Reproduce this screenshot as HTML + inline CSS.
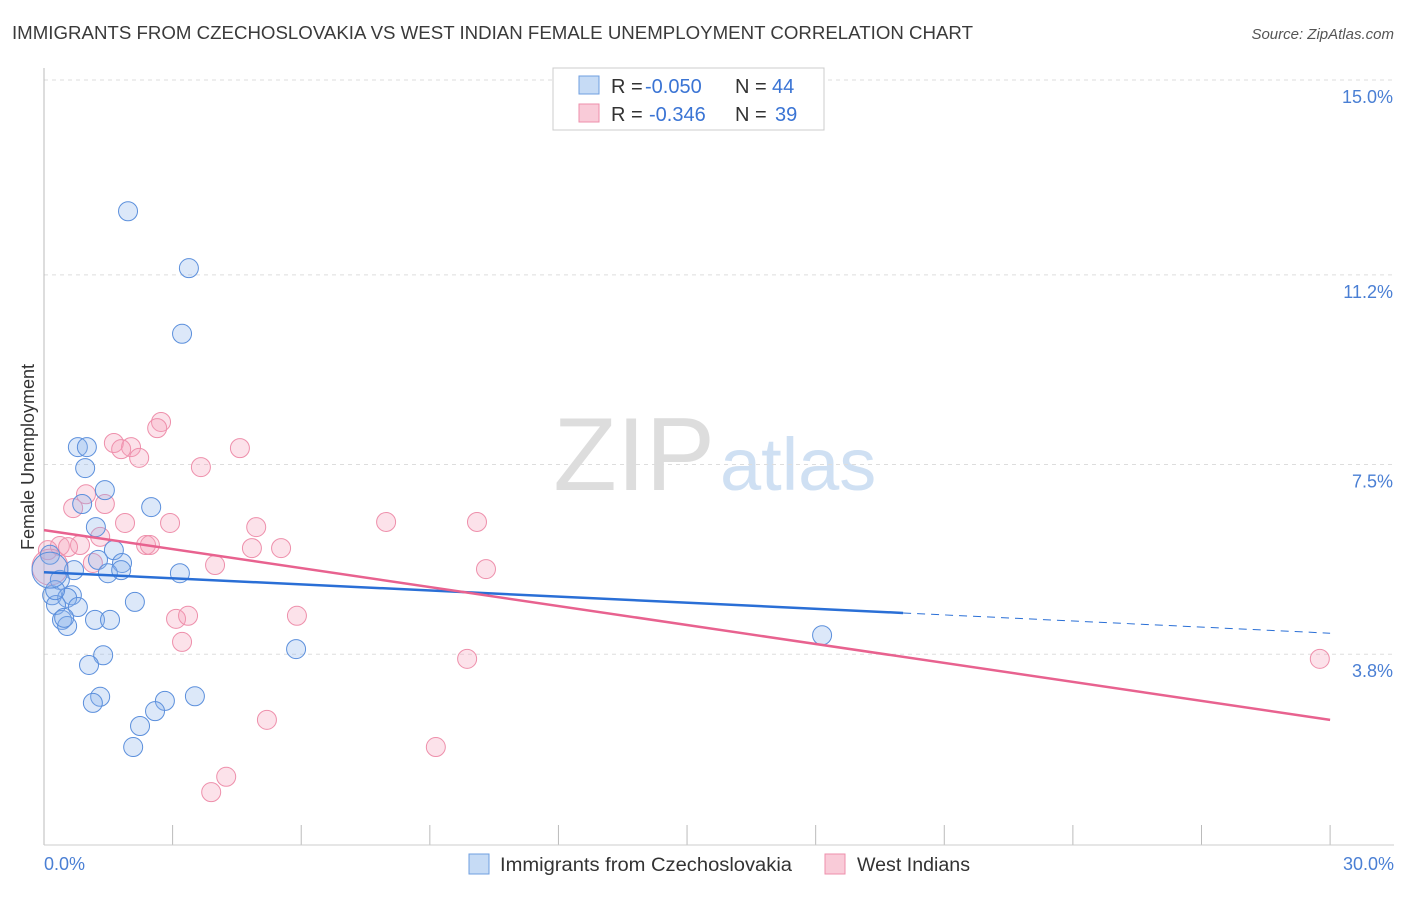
<!DOCTYPE html>
<html><head><meta charset="utf-8"><style>
body{margin:0;background:#fff;font-family:"Liberation Sans",sans-serif;}
svg text{font-family:"Liberation Sans",sans-serif;}
</style></head><body>
<svg id="chart" width="1406" height="892" xmlns="http://www.w3.org/2000/svg">
<text x="12" y="39" font-size="18" fill="#3a3a3a" textLength="961" lengthAdjust="spacingAndGlyphs">IMMIGRANTS FROM CZECHOSLOVAKIA VS WEST INDIAN FEMALE UNEMPLOYMENT CORRELATION CHART</text>
<text x="1394" y="39" font-size="15" fill="#555" text-anchor="end" font-style="italic">Source: ZipAtlas.com</text>
<text x="715" y="490" font-size="104" fill="#ddd" text-anchor="end" font-family="Liberation Serif">ZIP</text>
<text x="720" y="490" font-size="74" fill="#cfe0f3">atlas</text>
<g id="grid"></g>
<line x1="44" y1="68" x2="44" y2="845" stroke="#bbb"/>
<line x1="44" y1="845" x2="1394" y2="845" stroke="#ccc"/>
<text transform="translate(34,457) rotate(-90)" font-size="18" fill="#333" text-anchor="middle">Female Unemployment</text>
<text x="44" y="870" font-size="18" fill="#4a7fd4">0.0%</text>
<text x="1394" y="870" font-size="18" fill="#4a7fd4" text-anchor="end">30.0%</text>
<g id="pts"></g>
<g id="trends"></g>
<g>
<rect x="553" y="68" width="271" height="62" fill="#fff" stroke="#ccc"/>
<rect x="579" y="76" width="20" height="18" fill="#c6dbf5" stroke="#6f9fe0"/>
<rect x="579" y="104" width="20" height="18" fill="#f9cbd8" stroke="#ee8fab"/>
<text x="611" y="93" font-size="20" fill="#333">R =</text>
<text x="645" y="93" font-size="20" fill="#3a74d4">-0.050</text>
<text x="735" y="93" font-size="20" fill="#333">N =</text>
<text x="772" y="93" font-size="20" fill="#3a74d4">44</text>
<text x="611" y="121" font-size="20" fill="#333">R =</text>
<text x="649" y="121" font-size="20" fill="#3a74d4">-0.346</text>
<text x="735" y="121" font-size="20" fill="#333">N =</text>
<text x="775" y="121" font-size="20" fill="#3a74d4">39</text>
</g>
<g>
<rect x="469" y="854" width="20" height="20" fill="#c6dbf5" stroke="#6f9fe0"/>
<text x="500" y="871" font-size="19" fill="#333" textLength="292" lengthAdjust="spacingAndGlyphs">Immigrants from Czechoslovakia</text>
<rect x="825" y="854" width="20" height="20" fill="#f9cbd8" stroke="#ee8fab"/>
<text x="857" y="871" font-size="19" fill="#333" textLength="113" lengthAdjust="spacingAndGlyphs">West Indians</text>
</g>
</svg>
<script>
const yTicks=[15.0,11.2,7.5,3.8];
const yTickLabels=["15.0%","11.2%","7.5%","3.8%"];
const xTicks=[0,3,6,9,12,15,18,21,24,27,30];
const blueX=[1.96,3.38,3.22,0.79,1.00,0.96,1.42,0.89,2.50,1.21,1.63,1.26,1.82,0.70,1.49,1.80,3.17,0.37,0.19,0.65,0.54,0.28,0.79,2.12,0.42,0.54,1.19,1.54,5.88,1.38,1.05,1.31,1.14,2.82,3.52,2.59,2.24,2.08,18.15,0.14,0.26,0.47,0.14];
const blueY=[12.44,11.33,10.05,7.84,7.84,7.43,7.00,6.73,6.67,6.28,5.83,5.64,5.58,5.44,5.38,5.44,5.38,5.25,4.95,4.95,4.90,4.76,4.72,4.82,4.47,4.35,4.47,4.47,3.90,3.78,3.59,2.97,2.85,2.89,2.98,2.69,2.40,1.99,4.17,5.74,5.05,4.51,5.44];
const pinkX=[2.73,2.64,1.63,2.03,1.80,2.22,4.57,3.66,0.98,1.42,0.68,1.89,2.94,4.95,7.98,10.10,1.31,2.38,2.47,0.84,0.37,0.56,0.09,4.85,5.53,1.14,3.99,10.31,3.08,3.36,5.90,3.22,9.87,29.76,5.20,9.14,4.25,3.90,0.14];
const pinkY=[8.33,8.21,7.92,7.84,7.80,7.63,7.82,7.45,6.92,6.73,6.65,6.36,6.36,6.28,6.38,6.38,6.09,5.93,5.93,5.93,5.91,5.89,5.83,5.87,5.87,5.58,5.54,5.46,4.49,4.55,4.55,4.04,3.71,3.71,2.52,1.99,1.41,1.11,5.50];
const blueTrend=[5.40,4.21]; const blueSolidEnd=20.04;
const pinkTrend=[6.22,2.52];
const sx=v=>44+v*42.87, sy=v=>80+(15-v)*51.27;
const NS="http://www.w3.org/2000/svg";
function mk(t,a,p){const e=document.createElementNS(NS,t);for(const k in a)e.setAttribute(k,a[k]);p.appendChild(e);return e;}
const grid=document.getElementById('grid');
yTicks.forEach((v,i)=>{
 const l=mk('line',{x1:44,x2:1394,y1:sy(v),y2:sy(v),stroke:'#ddd','stroke-dasharray':'4,4'},grid);
 
 
 const t=mk('text',{x:1393,y:sy(v)+23,'font-size':18,fill:'#4a7fd4','text-anchor':'end'},grid);
 t.textContent=yTickLabels[i];
 
 
});
xTicks.forEach(v=>{
 const l=mk('line',{x1:sx(v),x2:sx(v),y1:825,y2:845,stroke:'#bbb'},grid);
 
 
});
const pts=document.getElementById('pts');
pinkX.forEach((x,i)=>{
 const c=mk('circle',{cx:sx(x),cy:sy(pinkY[i]),r:i==pinkX.length-1?18:9.5,fill:'rgba(244,160,187,0.3)',stroke:'#ee8fab','stroke-width':1},pts);
 
 
});
blueX.forEach((x,i)=>{
 const c=mk('circle',{cx:sx(x),cy:sy(blueY[i]),r:i==blueX.length-1?18:9.5,fill:'rgba(140,180,235,0.3)',stroke:'#5b8fdc','stroke-width':1},pts);
 
 
});
const tr=document.getElementById('trends');
const by=x=>blueTrend[0]+(blueTrend[1]-blueTrend[0])*x/30;
let l1=mk('line',{x1:sx(0),y1:sy(by(0)),x2:sx(blueSolidEnd),y2:sy(by(blueSolidEnd)),stroke:'#2a6fd6','stroke-width':2.5},tr);


let l2=mk('line',{x1:sx(blueSolidEnd),y1:sy(by(blueSolidEnd)),x2:sx(30),y2:sy(by(30)),stroke:'#2a6fd6','stroke-width':1,'stroke-dasharray':'8,6'},tr);


let l3=mk('line',{x1:sx(0),y1:sy(pinkTrend[0]),x2:sx(30),y2:sy(pinkTrend[1]),stroke:'#e8628f','stroke-width':2.5},tr);


</script>
</body></html>
